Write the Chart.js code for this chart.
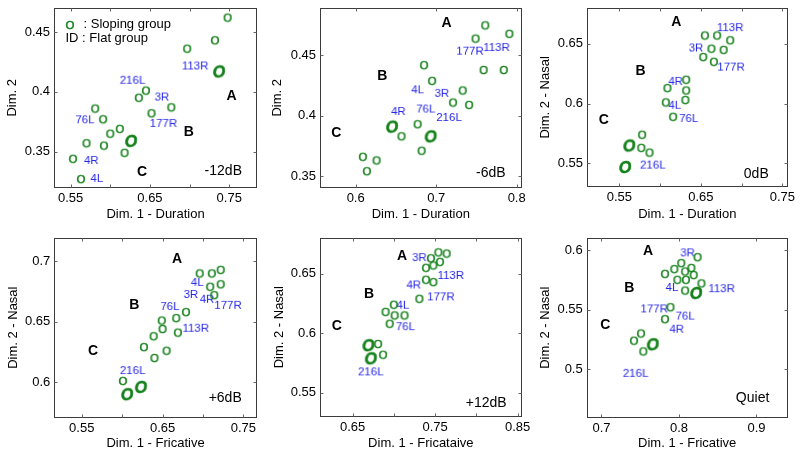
<!DOCTYPE html>
<html lang="en">
<head>
<meta charset="UTF-8" />
<title>MDS dimensions by SNR</title>
<script src="https://cdn.jsdelivr.net/npm/chart.js"></script>
<style>
  body { margin: 0; background: #fff; }
  #wrap { position: relative; width: 800px; height: 457px; overflow: hidden; background: #fff; }
  #wrap canvas { position: absolute; }
</style>
</head>
<body>
<div id="wrap">
  <canvas id="p1" width="265" height="228" style="left:0;top:0"></canvas>
  <canvas id="p2" width="265" height="228" style="left:265px;top:0"></canvas>
  <canvas id="p3" width="270" height="228" style="left:530px;top:0"></canvas>
  <canvas id="p4" width="265" height="229" style="left:0;top:228px"></canvas>
  <canvas id="p5" width="265" height="229" style="left:265px;top:228px"></canvas>
  <canvas id="p6" width="270" height="229" style="left:530px;top:228px"></canvas>
</div>

<script>
// ---- data ----
// -12dB
const slopeX1 = [0.748,0.732,0.697,0.645,0.636,0.677,0.652,0.581,0.591,0.612,0.600,0.570,0.592,0.618,0.553,0.563];
const slopeY1 = [0.462,0.443,0.436,0.401,0.395,0.387,0.382,0.386,0.377,0.369,0.365,0.357,0.355,0.349,0.344,0.327];
const boldX1 = [0.737,0.626];
const boldY1 = [0.417,0.359];
const flatIds1 = ['113R','216L','3R','76L','177R','4R','4L'];
const flatX1 = [0.707,0.628,0.665,0.568,0.667,0.576,0.583];
const flatY1 = [0.422,0.410,0.396,0.377,0.374,0.343,0.328];

// -6dB
const slopeX2 = [0.761,0.749,0.791,0.759,0.784,0.685,0.695,0.733,0.721,0.741,0.677,0.657,0.682,0.609,0.626,0.614];
const slopeY2 = [0.475,0.464,0.468,0.438,0.438,0.442,0.429,0.421,0.411,0.409,0.393,0.383,0.371,0.366,0.363,0.354];
const boldX2 = [0.645,0.693];
const boldY2 = [0.391,0.383];
const flatIds2 = ['177R','113R','4L','3R','4R','76L','216L'];
const flatX2 = [0.742,0.775,0.677,0.707,0.653,0.687,0.716];
const flatY2 = [0.454,0.457,0.422,0.419,0.404,0.406,0.399];

// 0dB
const slopeX3 = [0.655,0.670,0.686,0.663,0.678,0.653,0.666,0.632,0.609,0.632,0.631,0.607,0.616,0.578,0.577,0.587];
const slopeY3 = [0.657,0.657,0.653,0.646,0.645,0.639,0.635,0.620,0.613,0.611,0.603,0.601,0.589,0.574,0.563,0.559];
const boldX3 = [0.562,0.557];
const boldY3 = [0.565,0.547];
const flatIds3 = ['113R','3R','177R','4R','4L','76L','216L'];
const flatX3 = [0.686,0.644,0.687,0.619,0.618,0.635,0.591];
const flatY3 = [0.664,0.647,0.631,0.619,0.599,0.588,0.549];

// +6dB
const slopeX4 = [0.696,0.711,0.722,0.722,0.709,0.714,0.679,0.667,0.649,0.650,0.639,0.669,0.627,0.655,0.640,0.601];
const slopeY4 = [0.690,0.690,0.693,0.681,0.679,0.672,0.658,0.653,0.651,0.644,0.638,0.641,0.629,0.626,0.620,0.601];
const boldX4 = [0.606,0.623];
const boldY4 = [0.590,0.596];
const flatIds4 = ['4L','3R','4R','177R','76L','113R','216L'];
const flatX4 = [0.693,0.685,0.705,0.731,0.659,0.691,0.613];
const flatY4 = [0.683,0.673,0.669,0.664,0.663,0.645,0.610];

// +12dB
const slopeX5 = [0.764,0.754,0.745,0.756,0.748,0.739,0.739,0.748,0.731,0.700,0.690,0.701,0.713,0.695,0.681,0.687];
const slopeY5 = [0.667,0.668,0.663,0.660,0.657,0.655,0.645,0.643,0.629,0.624,0.618,0.615,0.615,0.608,0.591,0.582];
const boldX5 = [0.669,0.672];
const boldY5 = [0.590,0.579];
const flatIds5 = ['3R','113R','4R','177R','4L','76L','216L'];
const flatX5 = [0.731,0.769,0.724,0.757,0.711,0.714,0.672];
const flatY5 = [0.664,0.649,0.641,0.631,0.624,0.606,0.568];

// Quiet
const slopeX6 = [0.824,0.803,0.794,0.782,0.808,0.816,0.819,0.798,0.809,0.829,0.808,0.789,0.782,0.751,0.742,0.754];
const slopeY6 = [0.594,0.589,0.584,0.580,0.582,0.585,0.579,0.575,0.575,0.572,0.566,0.552,0.542,0.530,0.524,0.515];
const boldX6 = [0.822,0.766];
const boldY6 = [0.564,0.521];
const flatIds6 = ['3R','4L','113R','177R','76L','4R','216L'];
const flatX6 = [0.811,0.791,0.855,0.768,0.808,0.797,0.744];
const flatY6 = [0.598,0.569,0.568,0.551,0.545,0.534,0.497];

// cluster tags and condition names (data coords)
const tags1 = [['A',0.753,0.396],['B',0.699,0.366],['C',0.640,0.333],['-12dB',0.7425,0.334]];
const tags2 = [['A',0.713,0.477],['B',0.633,0.433],['C',0.576,0.386],['-6dB',0.768,0.352]];
const tags3 = [['A',0.620,0.668],['B',0.576,0.627],['C',0.531,0.586],['0dB',0.718,0.541]];
const tags4 = [['A',0.668,0.702],['B',0.615,0.664],['C',0.564,0.626],['+6dB',0.7275,0.587]];
const tags5 = [['A',0.710,0.665],['B',0.670,0.633],['C',0.631,0.606],['+12dB',0.812,0.541]];
const tags6 = [['A',0.760,0.599],['B',0.736,0.568],['C',0.705,0.537],['Quiet',0.895,0.476]];

// tick marks and which of them carry a label
const xTicks1 = [0.55,0.6,0.65,0.7,0.75], xLabels1 = [0.55,0.65,0.75], yTicks1 = [0.35,0.4,0.45];
const xTicks2 = [0.6,0.7,0.8],            xLabels2 = [0.6,0.7,0.8],    yTicks2 = [0.35,0.4,0.45];
const xTicks3 = [0.55,0.6,0.65,0.7,0.75], xLabels3 = [0.55,0.65,0.75], yTicks3 = [0.55,0.6,0.65];
const xTicks4 = [0.55,0.6,0.65,0.7,0.75], xLabels4 = [0.55,0.65,0.75], yTicks4 = [0.6,0.65,0.7];
const xTicks5 = [0.65,0.7,0.75,0.8,0.85], xLabels5 = [0.65,0.75,0.85], yTicks5 = [0.55,0.6,0.65];
const xTicks6 = [0.7,0.8,0.9],            xLabels6 = [0.7,0.8,0.9],    yTicks6 = [0.5,0.55,0.6];

// ---- drawing ----
const FONT = '"Liberation Sans", Arial, Helvetica, sans-serif';
const GREEN = '#14801a';
const BLUE = '#2626e6';
Chart.defaults.font.family = FONT;
Chart.defaults.color = '#000';

function textMark(text, font, color, weight) {
  const m = document.createElement('canvas').getContext('2d');
  m.font = font;
  const mt = m.measureText(text);
  const asc = mt.actualBoundingBoxAscent, desc = mt.actualBoundingBoxDescent;
  const w = Math.ceil((mt.width + 6) / 2) * 2;
  const h = Math.ceil((asc + desc + 6) / 2) * 2;
  const c = document.createElement('canvas');
  c.width = w; c.height = h;
  const ctx = c.getContext('2d');
  ctx.font = font;
  ctx.fillStyle = color;
  ctx.textAlign = 'center';
  ctx.textBaseline = 'alphabetic';
  const ty = h / 2 + (asc - desc) / 2;
  ctx.fillText(text, w / 2, ty);
  if (weight) {
    ctx.strokeStyle = color;
    ctx.lineWidth = weight;
    ctx.strokeText(text, w / 2, ty);
  }
  return c;
}

const smallO = textMark('O', '11.5px ' + FONT, GREEN, 0.45);
const bigO = textMark('O', 'bold italic 16px ' + FONT, GREEN, 0.5);

const frame = {
  id: 'frame',
  afterDatasetsDraw(chart) {
    const {ctx, chartArea: a, scales: {x, y}} = chart;
    const l = Math.round(a.left) + 0.5, r = Math.round(a.right) - 0.5;
    const t = Math.round(a.top) + 0.5, b = Math.round(a.bottom) - 0.5;
    ctx.save();
    ctx.strokeStyle = '#3c3c3c';
    ctx.lineWidth = 1;
    ctx.strokeRect(l, t, r - l, b - t);
    ctx.strokeStyle = '#666';
    ctx.beginPath();
    x.ticks.forEach(tk => {
      const px = Math.round(x.getPixelForValue(tk.value)) + 0.5;
      ctx.moveTo(px, b); ctx.lineTo(px, b - 3);
      ctx.moveTo(px, t); ctx.lineTo(px, t + 3);
    });
    y.ticks.forEach(tk => {
      const py = Math.round(y.getPixelForValue(tk.value)) + 0.5;
      ctx.moveTo(l, py); ctx.lineTo(l + 3, py);
      ctx.moveTo(r, py); ctx.lineTo(r - 3, py);
    });
    ctx.stroke();
    ctx.restore();
  }
};

const notes = {
  id: 'notes',
  afterDatasetsDraw(chart, args, opts) {
    const {ctx, chartArea: a, scales: {x, y}} = chart;
    ctx.save();
    ctx.textAlign = 'center';
    ctx.textBaseline = 'middle';
    ctx.fillStyle = '#000';
    opts.tags.forEach(([txt, vx, vy]) => {
      ctx.font = (txt.length === 1 ? 'bold 14px ' : '14px ') + FONT;
      ctx.fillText(txt, x.getPixelForValue(vx), y.getPixelForValue(vy));
    });
    if (opts.legend) {
      const oy = a.top + 16.5;
      ctx.drawImage(smallO, Math.round(a.left + 16 - smallO.width / 2), Math.round(oy - smallO.height / 2));
      ctx.font = '13px ' + FONT;
      ctx.textAlign = 'left';
      ctx.fillText(': Sloping group', a.left + 29.5, oy);
      ctx.fillText('ID : Flat group', a.left + 11.5, a.top + 30);
    }
    ctx.restore();
  }
};

function pts(xs, ys) { return xs.map((v, i) => ({x: v, y: ys[i]})); }
function near(list, v) { return list.some(t => Math.abs(t - v) < 1e-6); }

function makePanel(p) {
  return new Chart(document.getElementById(p.id), {
    type: 'scatter',
    data: {
      datasets: [
        { label: 'Sloping group', data: pts(p.sx, p.sy), pointStyle: smallO, pointRadius: 5 },
        { label: 'Bold', data: pts(p.bx, p.by), pointStyle: bigO, pointRadius: 7 },
        { label: 'Flat group', data: pts(p.fx, p.fy),
          pointStyle: p.ids.map(s => textMark(s, '11.5px ' + FONT, BLUE)), pointRadius: 5 }
      ]
    },
    options: {
      responsive: false,
      animation: false,
      devicePixelRatio: 1,
      events: [],
      layout: { padding: { left: 0, top: p.padTop, right: p.padRight, bottom: 0 } },
      plugins: {
        legend: { display: false },
        tooltip: { enabled: false },
        notes: { tags: p.tags, legend: !!p.legend }
      },
      scales: {
        x: {
          type: 'linear', min: p.xMin, max: p.xMax,
          afterBuildTicks: s => { s.ticks = p.xTicks.map(v => ({value: v})); },
          afterFit: s => { s.height = p.xAxisH; s.paddingLeft = 0; s.paddingRight = 0; },
          grid: { display: false, drawTicks: false },
          border: { display: false },
          ticks: {
            autoSkip: false, maxRotation: 0, padding: 3, font: { size: 13 }, color: '#000',
            callback: v => near(p.xLabels, v) ? String(+v.toFixed(2)) : ''
          },
          title: { display: true, text: p.xTitle, font: { size: 13 }, color: '#000', padding: { top: 0, bottom: 5.5 } }
        },
        y: {
          type: 'linear', min: p.yMin, max: p.yMax,
          afterBuildTicks: s => { s.ticks = p.yTicks.map(v => ({value: v})); },
          afterFit: s => { s.width = p.yAxisW; s.paddingTop = 0; s.paddingBottom = 0; },
          grid: { display: false, drawTicks: false },
          border: { display: false },
          ticks: {
            autoSkip: false, padding: 4, font: { size: 13 }, color: '#000',
            callback: v => String(+v.toFixed(2))
          },
          title: { display: true, text: p.yTitle, font: { size: 13 }, color: '#000', padding: { top: p.yTitlePad, bottom: 0 } }
        }
      }
    },
    plugins: [frame, notes]
  });
}

const panels = [
  { id: 'p1', sx: slopeX1, sy: slopeY1, bx: boldX1, by: boldY1, ids: flatIds1, fx: flatX1, fy: flatY1, tags: tags1, legend: true,
    xTicks: xTicks1, xLabels: xLabels1, yTicks: yTicks1, xMin: 0.529, xMax: 0.785, yMin: 0.320, yMax: 0.470,
    xTitle: 'Dim. 1 - Duration', yTitle: 'Dim. 2', padTop: 7.3, padRight: 8, xAxisH: 40.5, yAxisW: 54, yTitlePad: 4.2 },
  { id: 'p2', sx: slopeX2, sy: slopeY2, bx: boldX2, by: boldY2, ids: flatIds2, fx: flatX2, fy: flatY2, tags: tags2,
    xTicks: xTicks2, xLabels: xLabels2, yTicks: yTicks2, xMin: 0.5557, xMax: 0.806, yMin: 0.3405, yMax: 0.4894,
    xTitle: 'Dim. 1 - Duration', yTitle: 'Dim. 2', padTop: 7.3, padRight: 8.5, xAxisH: 40.5, yAxisW: 55, yTitlePad: 4.5 },
  { id: 'p3', sx: slopeX3, sy: slopeY3, bx: boldX3, by: boldY3, ids: flatIds3, fx: flatX3, fy: flatY3, tags: tags3,
    xTicks: xTicks3, xLabels: xLabels3, yTicks: yTicks3, xMin: 0.5103, xMax: 0.7563, yMin: 0.5304, yMax: 0.680,
    xTitle: 'Dim. 1 - Duration', yTitle: 'Dim. 2 - Nasal', padTop: 7.3, padRight: 12.5, xAxisH: 41.2, yAxisW: 57, yTitlePad: 7.2 },
  { id: 'p4', sx: slopeX4, sy: slopeY4, bx: boldX4, by: boldY4, ids: flatIds4, fx: flatX4, fy: flatY4, tags: tags4,
    xTicks: xTicks4, xLabels: xLabels4, yTicks: yTicks4, xMin: 0.516, xMax: 0.7665, yMin: 0.5705, yMax: 0.7196,
    xTitle: 'Dim. 1 - Fricative', yTitle: 'Dim. 2 - Nasal', padTop: 9.7, padRight: 8.3, xAxisH: 39.3, yAxisW: 54.3, yTitlePad: 5.5 },
  { id: 'p5', sx: slopeX5, sy: slopeY5, bx: boldX5, by: boldY5, ids: flatIds5, fx: flatX5, fy: flatY5, tags: tags5,
    xTicks: xTicks5, xLabels: xLabels5, yTicks: yTicks5, xMin: 0.6105, xMax: 0.855, yMin: 0.5299, yMax: 0.6803,
    xTitle: 'Dim. 1 - Fricataive', yTitle: 'Dim. 2 - Nasal', padTop: 9.7, padRight: 8.3, xAxisH: 40.3, yAxisW: 55, yTitlePad: 6.5 },
  { id: 'p6', sx: slopeX6, sy: slopeY6, bx: boldX6, by: boldY6, ids: flatIds6, fx: flatX6, fy: flatY6, tags: tags6,
    xTicks: xTicks6, xLabels: xLabels6, yTicks: yTicks6, xMin: 0.6809, xMax: 0.9403, yMin: 0.4594, yMax: 0.6103,
    xTitle: 'Dim. 1 - Fricative', yTitle: 'Dim. 2 - Nasal', padTop: 9.7, padRight: 12.3, xAxisH: 39.3, yAxisW: 56.7, yTitlePad: 7.5 }
];

panels.forEach(makePanel);
</script>
</body>
</html>
